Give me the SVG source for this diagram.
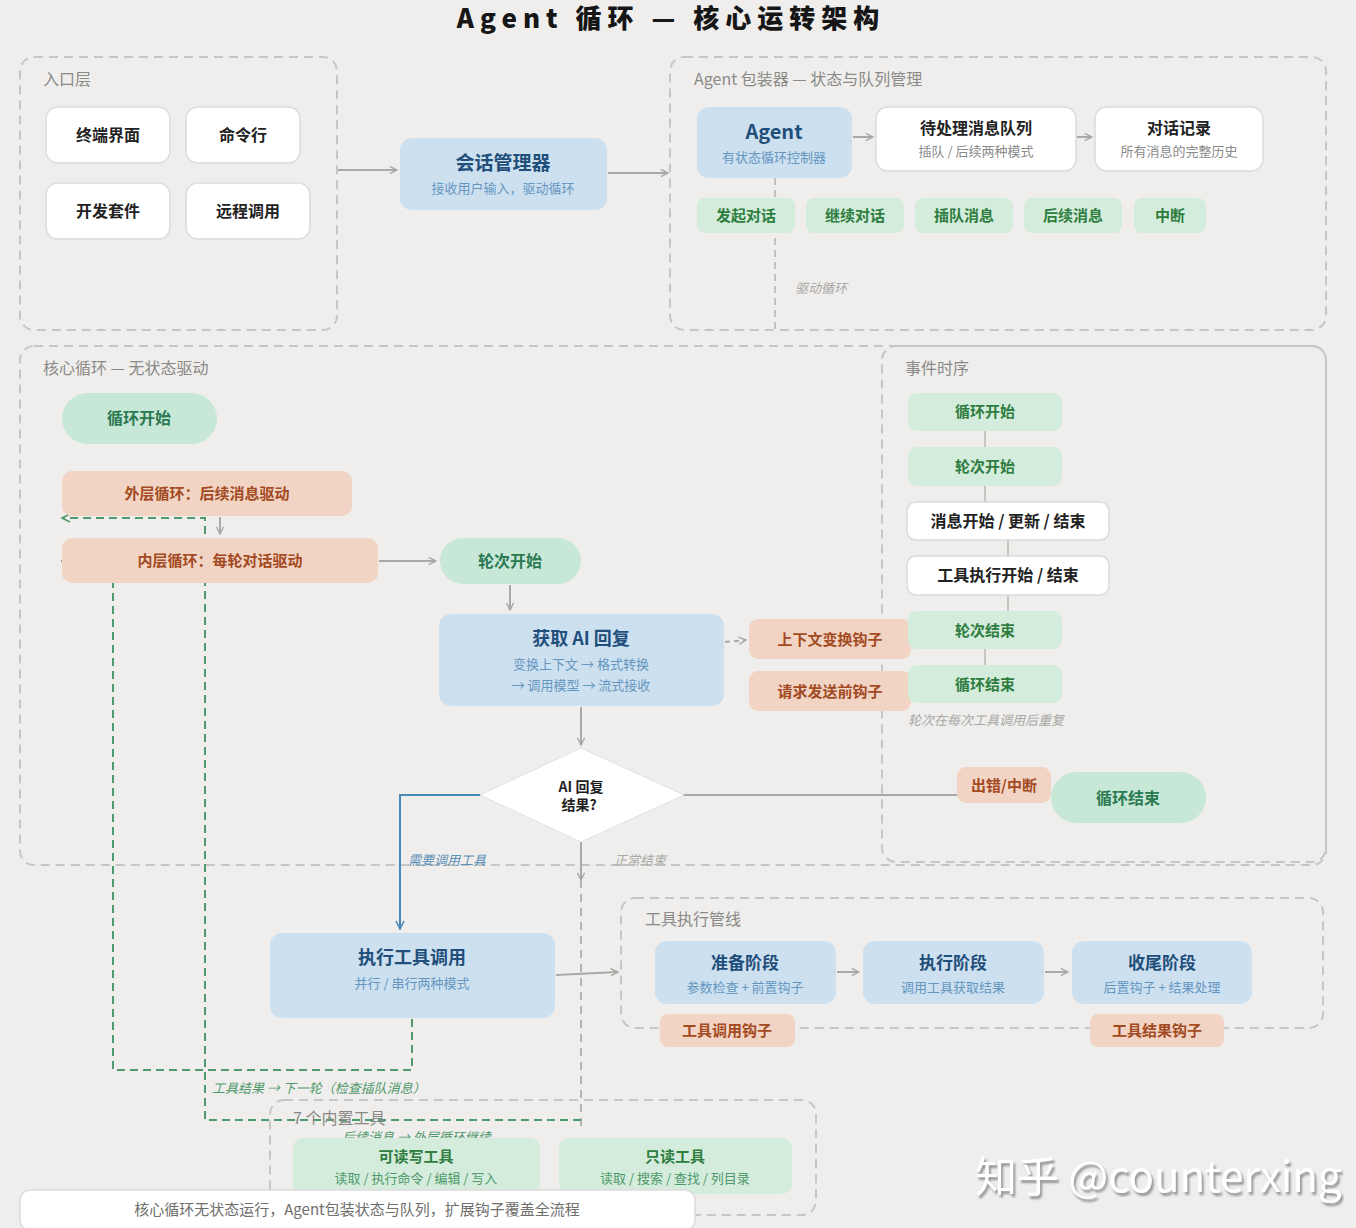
<svg xmlns="http://www.w3.org/2000/svg" width="1356" height="1228" viewBox="0 0 1356 1228">
<defs>
<style>
text{font-family:"Noto Sans CJK SC","Noto Sans",sans-serif;}
.cont{fill:none;stroke:#c6c6c4;stroke-width:2;stroke-dasharray:9 6;}
.clabel{font-size:16px;fill:#8a8a88;}
.white{fill:#ffffff;stroke:#dddcda;stroke-width:1.5;}
.blue{fill:#cde0f0;}
.bt{font-weight:bold;fill:#1f4f7a;text-anchor:middle;}
.bs{fill:#6596c0;text-anchor:middle;font-size:13px;}
.pill{fill:#c7e7d7;}
.pt{font-weight:bold;fill:#2b7a52;text-anchor:middle;font-size:16px;}
.chip{fill:#d4ecdb;}
.ct{font-weight:bold;fill:#2e7d3f;text-anchor:middle;font-size:15px;}
.salmon{fill:#f1d4c4;}
.st{font-weight:bold;fill:#a34a22;text-anchor:middle;font-size:15px;}
.wt{font-weight:bold;fill:#222;text-anchor:middle;font-size:16px;}
.ws{fill:#8a8a8a;text-anchor:middle;font-size:13px;}
.arr{fill:none;stroke:#a9a9a7;stroke-width:2;}
.gdash{fill:none;stroke:#4f9a6c;stroke-width:2;stroke-dasharray:8 5;}
.note{font-style:italic;font-size:13px;}
</style>
<marker id="ag" viewBox="0 0 10 10" refX="9" refY="5" markerWidth="9" markerHeight="9" markerUnits="userSpaceOnUse" orient="auto"><path d="M1,1 L9,5 L1,9" fill="none" stroke="#a9a9a7" stroke-width="1.6"/></marker>
<marker id="ab" viewBox="0 0 10 10" refX="9" refY="5" markerWidth="10" markerHeight="10" markerUnits="userSpaceOnUse" orient="auto"><path d="M1,1 L9,5 L1,9" fill="none" stroke="#4a8ab8" stroke-width="1.6"/></marker>
<marker id="agr" viewBox="0 0 10 10" refX="9" refY="5" markerWidth="10" markerHeight="10" markerUnits="userSpaceOnUse" orient="auto"><path d="M1,1 L9,5 L1,9" fill="none" stroke="#4f9a6c" stroke-width="1.6"/></marker>
<filter id="wm" x="-5%" y="-20%" width="110%" height="150%"><feDropShadow dx="2" dy="3" stdDeviation="1" flood-color="#8c8c8c" flood-opacity="0.9"/></filter>
</defs>
<rect x="0" y="0" width="1356" height="1228" fill="#efeeec"/>
<text x="671" y="28" text-anchor="middle" font-size="26" font-weight="900" letter-spacing="6" fill="#161616">Agent 循环 — 核心运转架构</text>

<!-- containers -->
<g id="entry-layer">
<rect class="cont" x="20" y="57" width="317" height="273" rx="14"/>
<text class="clabel" x="43" y="85">入口层</text>
</g>
<g id="agent-wrapper">
<rect class="cont" x="670" y="57" width="656" height="273" rx="14"/>
<text class="clabel" x="694" y="85">Agent 包装器 — 状态与队列管理</text>
</g>
<g id="core-loop">
<rect class="cont" x="20" y="346" width="1306" height="519" rx="14"/>
<text class="clabel" x="43" y="374">核心循环 — 无状态驱动</text>
</g>
<g id="event-timeline">
<rect class="cont" x="882" y="346" width="444" height="516" rx="14"/>
<text class="clabel" x="905" y="374">事件时序</text>
</g>
<g id="tool-pipeline">
<rect class="cont" x="621" y="898" width="702" height="130" rx="14"/>
<text class="clabel" x="645" y="925">工具执行管线</text>
</g>

<!-- connectors -->
<g id="connectors">
<line class="arr" x1="338" y1="170" x2="397" y2="170" marker-end="url(#ag)"/>
<line class="arr" x1="608" y1="173" x2="668" y2="173" marker-end="url(#ag)"/>
<line class="arr" x1="853" y1="137" x2="873" y2="137" marker-end="url(#ag)"/>
<line class="arr" x1="1077" y1="137" x2="1092" y2="137" marker-end="url(#ag)"/>
<line x1="775" y1="178" x2="775" y2="330" stroke="#b4b4b2" stroke-width="1.5" stroke-dasharray="7 5"/>
<line class="arr" x1="220" y1="517" x2="220" y2="534" marker-end="url(#ag)"/>
<line class="arr" x1="379" y1="561" x2="436" y2="561" marker-end="url(#ag)"/>
<line class="arr" x1="510" y1="585" x2="510" y2="610" marker-end="url(#ag)"/>
<line class="arr" x1="725" y1="642" x2="746" y2="640" stroke-dasharray="5 4" marker-end="url(#ag)"/>
<line class="arr" x1="581" y1="707" x2="581" y2="745" marker-end="url(#ag)"/>
<line class="arr" x1="684" y1="795" x2="957" y2="795"/>
<polyline points="480,795 400,795 400,929" fill="none" stroke="#4a8ab8" stroke-width="2" marker-end="url(#ab)"/>
<line class="arr" x1="581" y1="842" x2="581" y2="880" marker-end="url(#ag)"/>
<line x1="581" y1="880" x2="581" y2="1132" stroke="#b4b4b2" stroke-width="2" stroke-dasharray="8 6"/>
<line class="arr" x1="556" y1="975" x2="618" y2="972" marker-end="url(#ag)"/>
<line class="arr" x1="837" y1="972" x2="859" y2="972" marker-end="url(#ag)"/>
<line class="arr" x1="1045" y1="972" x2="1068" y2="972" marker-end="url(#ag)"/>
<polyline class="gdash" points="412,1019 412,1070 113,1070 113,561 62,561" marker-end="url(#agr)"/>
<polyline class="gdash" points="581,1120 205,1120 205,518 62,518" marker-end="url(#agr)"/>
<line x1="985" y1="431" x2="985" y2="447" stroke="#b8b8b6" stroke-width="1.5"/>
<line x1="985" y1="486" x2="985" y2="502" stroke="#b8b8b6" stroke-width="1.5"/>
<line x1="1008" y1="540" x2="1008" y2="556" stroke="#b8b8b6" stroke-width="1.5"/>
<line x1="1008" y1="595" x2="1008" y2="611" stroke="#b8b8b6" stroke-width="1.5"/>
<line x1="985" y1="649" x2="985" y2="665" stroke="#b8b8b6" stroke-width="1.5"/>
<text class="note" x="795" y="293" fill="#a8a8a6">驱动循环</text>
<text class="note" x="408" y="865" fill="#5a8fb8">需要调用工具</text>
<text class="note" x="614" y="865" fill="#aaaaa8">正常结束</text>
<text class="note" x="212" y="1093" fill="#4f9a6c">工具结果 → 下一轮（检查插队消息）</text>
<text class="note" x="342" y="1142" font-size="12" fill="#4f9a6c">后续消息 → 外层循环继续</text>
</g>

<!-- entry nodes -->
<g id="n-terminal"><rect class="white" x="46" y="107" width="124" height="56" rx="12"/><text class="wt" x="108" y="141">终端界面</text></g>
<g id="n-cli"><rect class="white" x="186" y="107" width="114" height="56" rx="12"/><text class="wt" x="243" y="141">命令行</text></g>
<g id="n-sdk"><rect class="white" x="46" y="183" width="124" height="56" rx="12"/><text class="wt" x="108" y="217">开发套件</text></g>
<g id="n-rpc"><rect class="white" x="186" y="183" width="124" height="56" rx="12"/><text class="wt" x="248" y="217">远程调用</text></g>

<g id="n-session"><rect class="blue" x="400" y="138" width="207" height="72" rx="12"/><text class="bt" x="503" y="170" font-size="19">会话管理器</text><text class="bs" x="503" y="193">接收用户输入，驱动循环</text></g>

<!-- agent wrapper nodes -->
<g id="n-agent"><rect class="blue" x="697" y="107" width="155" height="71" rx="12"/><text class="bt" x="774" y="139" font-size="20" fill="#1f5a8a">Agent</text><text class="bs" x="774" y="162">有状态循环控制器</text></g>
<g id="n-queue"><rect class="white" x="876" y="107" width="200" height="64" rx="12"/><text class="wt" x="976" y="134">待处理消息队列</text><text class="ws" x="976" y="156">插队 / 后续两种模式</text></g>
<g id="n-history"><rect class="white" x="1095" y="107" width="168" height="64" rx="12"/><text class="wt" x="1179" y="134">对话记录</text><text class="ws" x="1179" y="156">所有消息的完整历史</text></g>
<g id="c-start"><rect class="chip" x="697" y="198" width="98" height="35" rx="8"/><text class="ct" x="746" y="221">发起对话</text></g>
<g id="c-continue"><rect class="chip" x="806" y="198" width="98" height="35" rx="8"/><text class="ct" x="855" y="221">继续对话</text></g>
<g id="c-steer"><rect class="chip" x="915" y="198" width="98" height="35" rx="8"/><text class="ct" x="964" y="221">插队消息</text></g>
<g id="c-follow"><rect class="chip" x="1024" y="198" width="98" height="35" rx="8"/><text class="ct" x="1073" y="221">后续消息</text></g>
<g id="c-abort"><rect class="chip" x="1134" y="198" width="72" height="35" rx="8"/><text class="ct" x="1170" y="221">中断</text></g>

<!-- core loop nodes -->
<g id="n-loop-start"><rect class="pill" x="62" y="393" width="155" height="51" rx="25.5"/><text class="pt" x="139" y="424">循环开始</text></g>
<g id="n-outer"><rect class="salmon" x="62" y="471" width="290" height="45" rx="10"/><text class="st" x="207" y="499">外层循环：后续消息驱动</text></g>
<g id="n-inner"><rect class="salmon" x="62" y="538" width="316" height="45" rx="10"/><text class="st" x="220" y="566">内层循环：每轮对话驱动</text></g>
<g id="n-turn-start"><rect class="pill" x="440" y="538" width="141" height="46" rx="23"/><text class="pt" x="510" y="567">轮次开始</text></g>
<g id="n-get-ai"><rect class="blue" x="439" y="614" width="285" height="92" rx="12"/><text class="bt" x="581" y="645" font-size="18">获取 AI 回复</text><text class="bs" x="581" y="669">变换上下文 → 格式转换</text><text class="bs" x="581" y="690">→ 调用模型 → 流式接收</text></g>
<g id="h-context"><rect class="salmon" x="749" y="619" width="162" height="40" rx="9"/><text class="st" x="830" y="645">上下文变换钩子</text></g>
<g id="h-before"><rect class="salmon" x="749" y="671" width="162" height="40" rx="9"/><text class="st" x="830" y="697">请求发送前钩子</text></g>
<g id="n-decision"><polygon points="581,748 684,795 581,842 480,795" fill="#ffffff" stroke="#e2e2e0" stroke-width="1"/><text x="581" y="792" text-anchor="middle" font-size="14" font-weight="bold" fill="#1e1e1e">AI 回复</text><text x="579" y="810" text-anchor="middle" font-size="14" font-weight="bold" fill="#1e1e1e">结果?</text></g>
<g id="n-error"><rect class="salmon" x="957" y="767" width="94" height="36" rx="9"/><text class="st" x="1004" y="791" font-size="14">出错/中断</text></g>
<g id="n-loop-end"><rect class="pill" x="1051" y="772" width="155" height="51" rx="25.5"/><text class="pt" x="1128" y="804">循环结束</text></g>

<!-- event timeline nodes -->
<g id="e-loop-start"><rect class="chip" x="908" y="393" width="154" height="38" rx="9"/><text class="ct" x="985" y="417" font-size="14">循环开始</text></g>
<g id="e-turn-start"><rect class="chip" x="908" y="447" width="154" height="39" rx="9"/><text class="ct" x="985" y="472" font-size="14">轮次开始</text></g>
<g id="e-message"><rect class="white" x="907" y="502" width="202" height="38" rx="9"/><text class="wt" x="1008" y="527" font-size="13">消息开始 / 更新 / 结束</text></g>
<g id="e-tool"><rect class="white" x="907" y="556" width="202" height="39" rx="9"/><text class="wt" x="1008" y="581" font-size="13">工具执行开始 / 结束</text></g>
<g id="e-turn-end"><rect class="chip" x="908" y="611" width="154" height="38" rx="9"/><text class="ct" x="985" y="636" font-size="14">轮次结束</text></g>
<g id="e-loop-end"><rect class="chip" x="908" y="665" width="154" height="38" rx="9"/><text class="ct" x="985" y="690" font-size="14">循环结束</text></g>
<text class="note" x="908" y="725" font-size="12" fill="#a8a8a6">轮次在每次工具调用后重复</text>

<!-- tool execution -->
<g id="n-exec-tools"><rect class="blue" x="270" y="933" width="285" height="85" rx="12"/><text class="bt" x="412" y="964" font-size="18">执行工具调用</text><text class="bs" x="412" y="988">并行 / 串行两种模式</text></g>
<g id="p-prepare"><rect class="blue" x="655" y="941" width="181" height="63" rx="12"/><text class="bt" x="745" y="969" font-size="17">准备阶段</text><text class="bs" x="745" y="992" font-size="12">参数检查 + 前置钩子</text></g>
<g id="p-execute"><rect class="blue" x="863" y="941" width="181" height="63" rx="12"/><text class="bt" x="953" y="969" font-size="17">执行阶段</text><text class="bs" x="953" y="992" font-size="12">调用工具获取结果</text></g>
<g id="p-finish"><rect class="blue" x="1072" y="941" width="180" height="63" rx="12"/><text class="bt" x="1162" y="969" font-size="17">收尾阶段</text><text class="bs" x="1162" y="992" font-size="12">后置钩子 + 结果处理</text></g>
<g id="h-tool-call"><rect class="salmon" x="660" y="1014" width="135" height="33" rx="8"/><text class="st" x="727" y="1036" font-size="13">工具调用钩子</text></g>
<g id="h-tool-result"><rect class="salmon" x="1090" y="1014" width="134" height="33" rx="8"/><text class="st" x="1157" y="1036" font-size="13">工具结果钩子</text></g>

<!-- built-in tools -->
<g id="builtin-tools">
<rect class="cont" x="270" y="1100" width="546" height="115" rx="14"/>
<text x="293" y="1124" font-size="16" fill="#8a8a88">7 个内置工具</text>
</g>
<g id="t-rw"><rect class="chip" x="293" y="1138" width="247" height="56" rx="10"/><text class="ct" x="416" y="1162">可读写工具</text><text x="416" y="1183" text-anchor="middle" font-size="13" fill="#4f9a6c">读取 / 执行命令 / 编辑 / 写入</text></g>
<g id="t-ro"><rect class="chip" x="559" y="1138" width="233" height="56" rx="10"/><text class="ct" x="675" y="1162">只读工具</text><text x="675" y="1183" text-anchor="middle" font-size="13" fill="#4f9a6c">读取 / 搜索 / 查找 / 列目录</text></g>

<g id="footer"><rect x="20" y="1190" width="675" height="40" rx="10" fill="#ffffff" stroke="#dddcda" stroke-width="1.5"/><text x="357" y="1215" text-anchor="middle" font-size="15" fill="#6e6e6c">核心循环无状态运行，Agent包装状态与队列，扩展钩子覆盖全流程</text></g>

<text x="975" y="1192" font-size="42" fill="#ffffff" filter="url(#wm)">知乎 @counterxing</text>
</svg>
